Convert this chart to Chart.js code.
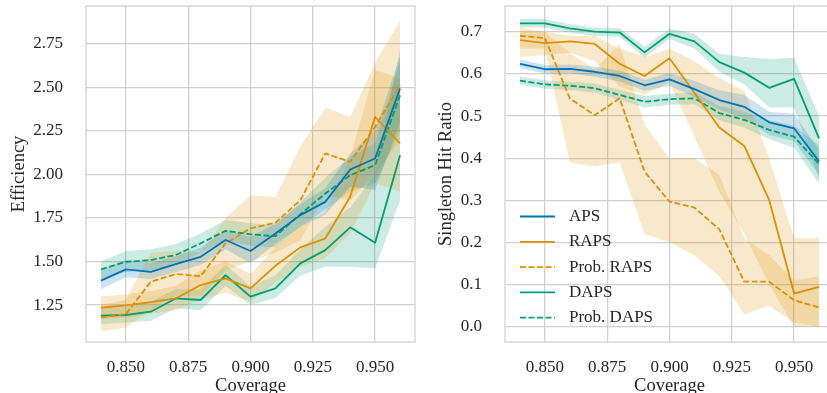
<!DOCTYPE html>
<html><head><meta charset="utf-8">
<script src="https://cdn.jsdelivr.net/npm/chart.js@4.4.1/dist/chart.umd.min.js"></script>
<style>
html,body{margin:0;padding:0;background:#fff;overflow:hidden;width:827px;height:393px;position:relative;}
#c1{position:absolute;left:0;top:0;}
#c2{position:absolute;left:420px;top:0;}
</style></head><body>
<canvas id="c1" width="416" height="393"></canvas>
<canvas id="c2" width="415" height="393"></canvas>
<script>
// ---------------- data ----------------
const coverage = [0.84,0.85,0.86,0.87,0.88,0.89,0.90,0.91,0.92,0.93,0.94,0.95,0.96];
const xTicks = [0.850,0.875,0.900,0.925,0.950];
const effTicks = [1.25,1.50,1.75,2.00,2.25,2.50,2.75];
const hitTicks = [0.0,0.1,0.2,0.3,0.4,0.5,0.6,0.7];
const seriesNames = ['APS','RAPS','Prob. RAPS','DAPS','Prob. DAPS'];

// Efficiency (left)
const effAPS     = [1.39,1.455,1.44,1.485,1.527,1.623,1.56,1.661,1.766,1.842,2.028,2.091,2.493];
const effAPSLo   = [1.34,1.41,1.40,1.44,1.48,1.57,1.49,1.60,1.70,1.77,1.93,1.91,2.30];
const effAPSHi   = [1.45,1.51,1.49,1.53,1.58,1.68,1.64,1.72,1.83,1.92,2.12,2.25,2.68];
const effRAPS    = [1.235,1.248,1.267,1.288,1.365,1.403,1.346,1.475,1.581,1.632,1.871,2.330,2.177];
const effRAPSLo  = [1.17,1.18,1.20,1.22,1.28,1.32,1.27,1.38,1.47,1.52,1.66,1.95,1.90];
const effRAPSHi  = [1.30,1.31,1.33,1.36,1.45,1.50,1.43,1.58,1.70,1.78,2.10,2.60,2.55];
const effPRAPS   = [1.179,1.198,1.384,1.428,1.416,1.604,1.69,1.722,1.852,2.12,2.072,2.272,2.511];
const effPRAPSLo = [1.10,1.12,1.22,1.30,1.30,1.45,1.50,1.55,1.62,1.88,1.85,2.00,2.20];
const effPRAPSHi = [1.25,1.28,1.55,1.56,1.55,1.75,1.88,1.87,2.16,2.38,2.33,2.64,2.88];
const effDAPS    = [1.189,1.193,1.212,1.288,1.279,1.422,1.298,1.346,1.489,1.565,1.696,1.607,2.11];
const effDAPSLo  = [1.14,1.15,1.16,1.23,1.22,1.36,1.25,1.29,1.42,1.47,1.47,1.46,1.85];
const effDAPSHi  = [1.24,1.24,1.27,1.34,1.34,1.48,1.36,1.42,1.57,1.70,1.81,2.00,2.72];
const effPDAPS   = [1.455,1.498,1.508,1.537,1.604,1.676,1.656,1.645,1.771,1.89,1.995,2.053,2.454];
const effPDAPSLo = [1.40,1.44,1.45,1.48,1.55,1.62,1.59,1.58,1.70,1.80,1.90,1.95,2.25];
const effPDAPSHi = [1.50,1.56,1.57,1.60,1.66,1.74,1.72,1.71,1.84,1.98,2.10,2.18,2.65];

// Singleton hit ratio (right)
const hitAPS     = [0.624,0.611,0.612,0.605,0.595,0.573,0.587,0.564,0.538,0.522,0.485,0.471,0.392];
const hitAPSLo   = [0.614,0.601,0.602,0.593,0.582,0.560,0.572,0.545,0.515,0.495,0.455,0.440,0.360];
const hitAPSHi   = [0.634,0.621,0.622,0.617,0.608,0.586,0.602,0.583,0.561,0.550,0.510,0.505,0.420];
const hitRAPS    = [0.680,0.673,0.677,0.671,0.624,0.595,0.637,0.555,0.473,0.429,0.301,0.079,0.095];
const hitRAPSLo  = [0.64,0.645,0.65,0.63,0.57,0.55,0.58,0.45,0.32,0.22,0.10,0.0,0.0];
const hitRAPSHi  = [0.70,0.70,0.69,0.69,0.66,0.64,0.66,0.63,0.59,0.56,0.40,0.21,0.21];
const hitPRAPS   = [0.690,0.685,0.542,0.502,0.542,0.368,0.297,0.283,0.231,0.107,0.107,0.063,0.046];
const hitPRAPSLo = [0.66,0.66,0.39,0.38,0.39,0.22,0.20,0.17,0.12,0.03,0.05,0.01,0.0];
const hitPRAPSHi = [0.71,0.70,0.65,0.61,0.67,0.48,0.40,0.40,0.36,0.21,0.17,0.11,0.12];
const hitDAPS    = [0.720,0.720,0.708,0.700,0.698,0.651,0.695,0.677,0.628,0.603,0.567,0.588,0.447];
const hitDAPSLo  = [0.71,0.71,0.698,0.69,0.688,0.638,0.683,0.66,0.605,0.575,0.52,0.52,0.35];
const hitDAPSHi  = [0.73,0.73,0.718,0.71,0.708,0.665,0.707,0.695,0.648,0.64,0.635,0.638,0.50];
const hitPDAPS   = [0.584,0.575,0.572,0.566,0.550,0.534,0.540,0.542,0.507,0.491,0.467,0.451,0.386];
const hitPDAPSLo = [0.574,0.565,0.562,0.555,0.538,0.520,0.527,0.528,0.490,0.472,0.445,0.425,0.340];
const hitPDAPSHi = [0.594,0.585,0.582,0.577,0.562,0.548,0.553,0.556,0.524,0.510,0.490,0.477,0.430];

// ---------------- style ----------------
const FONT = '"Liberation Serif", "Times New Roman", serif';
const TXT = '#262626';
const GRID = '#d0d0d0';
const COLORS = ['#0173b2','#de8f05','#de8f05','#029e73','#029e73'];
const BANDS = ['rgba(1,115,178,0.2)','rgba(222,143,5,0.2)','rgba(222,143,5,0.2)','rgba(2,158,115,0.2)','rgba(2,158,115,0.2)'];
const DASHED = [false,false,true,false,true];
const DASH = [6,2.5];
const LW = 1.8;

function pts(arr){ return coverage.map((x,i)=>({x:x,y:arr[i]})); }

function buildDatasets(means, los, his){
  const ds = [];
  for (let i=0;i<means.length;i++){
    ds.push({label:'lo'+i, data:pts(los[i]), borderWidth:0, pointRadius:0, fill:false, order:10, borderColor:'rgba(0,0,0,0)'});
    ds.push({label:'hi'+i, data:pts(his[i]), borderWidth:0, pointRadius:0, fill:'-1', backgroundColor:BANDS[i], order:10, borderColor:'rgba(0,0,0,0)'});
  }
  for (let i=0;i<means.length;i++){
    ds.push({label:seriesNames[i], data:pts(means[i]), borderColor:COLORS[i], borderWidth:LW, pointRadius:0,
      borderDash: DASHED[i]?DASH:[], fill:false, order:0, borderJoinStyle:'round', tension:0});
  }
  return ds;
}

const framePlugin = {
  id:'frame',
  beforeDatasetsDraw(chart){
    const a = chart.chartArea, ctx = chart.ctx;
    ctx.save(); ctx.strokeStyle = GRID; ctx.lineWidth = 1.25;
    ctx.strokeRect(a.left, a.top, a.right-a.left, a.bottom-a.top);
    ctx.restore();
  }
};

const legendPlugin = {
  id:'legendInside',
  afterDatasetsDraw(chart){
    const a = chart.chartArea, ctx = chart.ctx;
    ctx.save();
    seriesNames.forEach((name,i)=>{
      const y = a.top + 210.5 + i*25.3;
      const x0 = a.left + 15;
      ctx.strokeStyle = COLORS[i]; ctx.lineWidth = LW;
      ctx.setLineDash(DASHED[i]?DASH:[]);
      ctx.beginPath(); ctx.moveTo(x0,y); ctx.lineTo(x0+35,y); ctx.stroke();
      ctx.setLineDash([]);
      ctx.fillStyle = TXT; ctx.font = '17px ' + FONT; ctx.textBaseline = 'middle'; ctx.textAlign='left';
      ctx.fillText(name, x0+49, y);
    });
    ctx.restore();
  }
};

function makeChart(id, datasets, yMin, yMax, yTicks, yDec, yTitle, yWidth, yTitlePad, plugins){
  return new Chart(document.getElementById(id), {
    type:'line',
    data:{datasets:datasets},
    plugins:plugins,
    options:{
      responsive:false, animation:false, devicePixelRatio:1,
      layout:{padding:{top:6,right:1,bottom:0,left:0}},
      plugins:{legend:{display:false}, tooltip:{enabled:false}, filler:{drawTime:'beforeDatasetsDraw'}},
      scales:{
        x:{type:'linear', min:0.834, max:0.966,
          afterBuildTicks:s=>{ s.ticks = xTicks.map(v=>({value:v})); },
          afterFit:s=>{ s.height = 51; s.paddingLeft=0; s.paddingRight=0; },
          grid:{color:GRID, lineWidth:1.25, drawTicks:false},
          border:{display:false},
          ticks:{padding:15, color:TXT, font:{family:FONT, size:17}, callback:v=>Number(v).toFixed(3), maxRotation:0, autoSkip:false},
          title:{display:true, text:'Coverage', color:TXT, font:{family:FONT, size:18.5}, padding:{top:0,bottom:-4}}
        },
        y:{type:'linear', min:yMin, max:yMax,
          afterBuildTicks:s=>{ s.ticks = yTicks.map(v=>({value:v})); },
          afterFit:s=>{ s.width = yWidth; s.paddingTop=0; s.paddingBottom=0; },
          grid:{color:GRID, lineWidth:1.25, drawTicks:false},
          border:{display:false},
          ticks:{padding:23, color:TXT, font:{family:FONT, size:17}, callback:v=>Number(v).toFixed(yDec), autoSkip:false},
          title:{display:true, text:yTitle, color:TXT, font:{family:FONT, size:18.5}, padding:{top:yTitlePad,bottom:0}}
        }
      }
    }
  });
}

makeChart('c1',
  buildDatasets([effAPS,effRAPS,effPRAPS,effDAPS,effPDAPS],
                [effAPSLo,effRAPSLo,effPRAPSLo,effDAPSLo,effPDAPSLo],
                [effAPSHi,effRAPSHi,effPRAPSHi,effDAPSHi,effPDAPSHi]),
  1.038, 2.966, effTicks, 2, 'Efficiency', 86, 8, [framePlugin]);

makeChart('c2',
  buildDatasets([hitAPS,hitRAPS,hitPRAPS,hitDAPS,hitPDAPS],
                [hitAPSLo,hitRAPSLo,hitPRAPSLo,hitDAPSLo,hitPDAPSLo],
                [hitAPSHi,hitRAPSHi,hitPRAPSHi,hitDAPSHi,hitPDAPSHi]),
  -0.036, 0.761, hitTicks, 1, 'Singleton Hit Ratio', 85, 15, [framePlugin, legendPlugin]);
</script>
</body></html>
